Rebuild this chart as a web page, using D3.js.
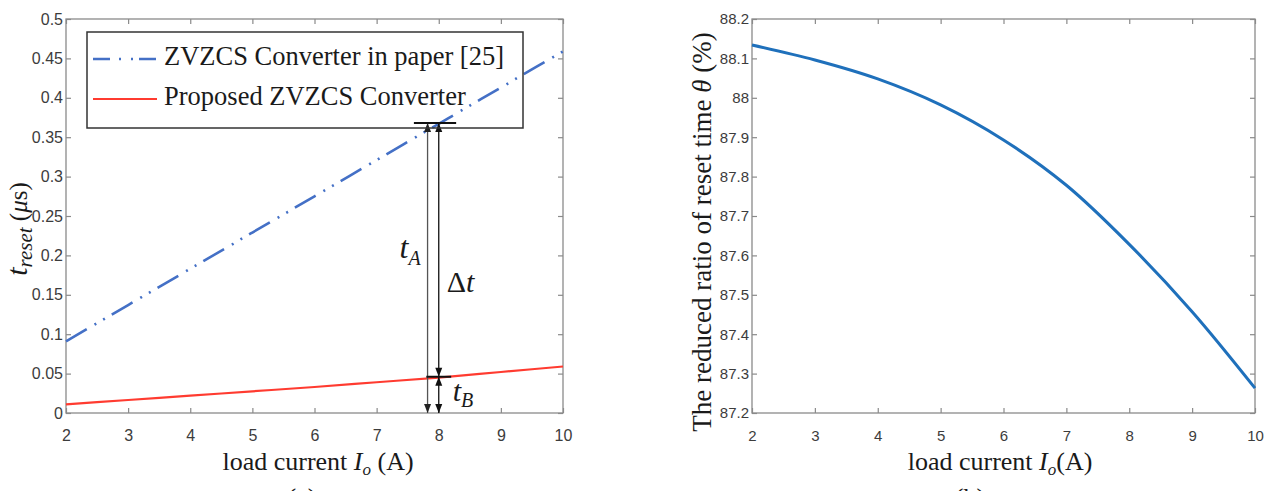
<!DOCTYPE html>
<html>
<head>
<meta charset="utf-8">
<script src="https://cdn.jsdelivr.net/npm/d3@7"></script>
<style>
    body { margin: 0; background: #fff; }
    svg { display: block; }
</style>
</head>
<body>
<script>
// values
const loadCurrent = [2, 3, 4, 5, 6, 7, 8, 9, 10];
const resetPaper = [0.091, 0.137, 0.183, 0.229, 0.275, 0.321, 0.367, 0.413, 0.459];
const resetProposed = [0.011, 0.0165, 0.022, 0.0275, 0.033, 0.039, 0.045, 0.052, 0.059];
const reducedRatio = [88.134, 88.096, 88.048, 87.982, 87.893, 87.778, 87.628, 87.457, 87.263];

const currentTicks = [2, 3, 4, 5, 6, 7, 8, 9, 10];
const resetTicks = [0, 0.05, 0.1, 0.15, 0.2, 0.25, 0.3, 0.35, 0.4, 0.45, 0.5];
const ratioTicks = [87.2, 87.3, 87.4, 87.5, 87.6, 87.7, 87.8, 87.9, 88, 88.1, 88.2];
const legendNames = ["ZVZCS Converter in paper [25]", "Proposed ZVZCS Converter"];

// the t_A / delta t / t_B marker
const markAt = 8;
const markLeftAt = 7.82;
const markTop = 0.368;
const markMid = 0.046;
const capTop = [7.6, 8.28];
const capMid = [7.8, 8.2];

const serif = "'Liberation Serif', 'Times New Roman', serif";
const sans = "'Liberation Sans', Arial, sans-serif";
const axisGray = "#8a8a8a";

const svg = d3.select("body").append("svg")
    .attr("width", 1274)
    .attr("height", 491);

function drawFrame(x, y, yTicks, yFormat, labelSize) {
    const [x0, x1] = x.range();
    const [y1, y0] = y.range();
    const g = svg.append("g");

    const bottom = g.append("g").attr("transform", `translate(0,${y1})`)
        .call(d3.axisBottom(x).tickValues(currentTicks).tickSizeInner(-5).tickSizeOuter(0).tickPadding(17).tickFormat(d3.format("d")));
    const top = g.append("g").attr("transform", `translate(0,${y0})`)
        .call(d3.axisTop(x).tickValues(currentTicks).tickSizeInner(-5).tickSizeOuter(0).tickFormat(""));
    const left = g.append("g").attr("transform", `translate(${x0},0)`)
        .call(d3.axisLeft(y).tickValues(yTicks).tickSizeInner(-5).tickSizeOuter(0).tickPadding(3).tickFormat(yFormat));
    const right = g.append("g").attr("transform", `translate(${x1},0)`)
        .call(d3.axisRight(y).tickValues(yTicks).tickSizeInner(-5).tickSizeOuter(0).tickFormat(""));

    [bottom, top, left, right].forEach(a => {
        a.select(".domain").remove();
        a.selectAll(".tick line").attr("stroke", axisGray).attr("stroke-width", 1.2);
        a.selectAll(".tick text")
            .attr("fill", "#3c3c3c")
            .style("font-family", sans)
            .style("font-size", labelSize + "px");
    });

    g.append("rect")
        .attr("x", x0).attr("y", y0)
        .attr("width", x1 - x0).attr("height", y1 - y0)
        .attr("fill", "none")
        .attr("stroke", axisGray)
        .attr("stroke-width", 1.3);
    return g;
}

function xTitle(cx, suffix) {
    const t = svg.append("text")
        .attr("x", cx).attr("y", 470)
        .attr("text-anchor", "middle")
        .style("font-family", serif)
        .style("font-size", "26px")
        .attr("fill", "#1a1a1a");
    t.append("tspan").text("load current ");
    t.append("tspan").attr("font-style", "italic").text("I");
    t.append("tspan").attr("font-style", "italic").attr("font-size", "17px").attr("dy", 5).text("o");
    t.append("tspan").attr("dy", -5).text(suffix);
}

function arrowHead(g, px, py, dir, color) {
    // dir -1 points up, 1 points down
    g.append("path")
        .attr("d", `M${px},${py} L${px - 3.5},${py - dir * 9} L${px + 3.5},${py - dir * 9} Z`)
        .attr("fill", color);
}

// ---------- (a) ----------
const xa = d3.scaleLinear().domain([2, 10]).range([66, 563]);
const ya = d3.scaleLinear().domain([0, 0.5]).range([413, 19]);
drawFrame(xa, ya, resetTicks, d => String(+d.toFixed(3)), 16);

const line = d3.line()
    .x((d, i) => xa(loadCurrent[i]))
    .y(d => ya(d))
    .curve(d3.curveMonotoneX);

const plotA = svg.append("g");
plotA.append("path")
    .attr("d", line(resetPaper))
    .attr("fill", "none")
    .attr("stroke", "#4470c6")
    .attr("stroke-width", 2.6)
    .attr("stroke-dasharray", "24,9,2,8,2,8");
plotA.append("path")
    .attr("d", line(resetProposed))
    .attr("fill", "none")
    .attr("stroke", "#ff3b30")
    .attr("stroke-width", 2.2);

// marker lines and arrows
const mark = svg.append("g");
mark.append("line")
    .attr("x1", xa(markLeftAt)).attr("x2", xa(markLeftAt))
    .attr("y1", ya(markTop)).attr("y2", ya(0))
    .attr("stroke", "#555").attr("stroke-width", 1.3);
mark.append("line")
    .attr("x1", xa(markAt)).attr("x2", xa(markAt))
    .attr("y1", ya(markTop)).attr("y2", ya(0))
    .attr("stroke", "#111").attr("stroke-width", 1.3);
mark.append("line")
    .attr("x1", xa(capTop[0])).attr("x2", xa(capTop[1]))
    .attr("y1", ya(markTop)).attr("y2", ya(markTop))
    .attr("stroke", "#111").attr("stroke-width", 2);
mark.append("line")
    .attr("x1", xa(capMid[0])).attr("x2", xa(capMid[1]))
    .attr("y1", ya(markMid)).attr("y2", ya(markMid))
    .attr("stroke", "#111").attr("stroke-width", 2);
arrowHead(mark, xa(markLeftAt), ya(markTop), -1, "#222");
arrowHead(mark, xa(markLeftAt), ya(0), 1, "#222");
arrowHead(mark, xa(markAt), ya(markTop), -1, "#111");
arrowHead(mark, xa(markAt), ya(markMid), 1, "#111");
arrowHead(mark, xa(markAt), ya(markMid), -1, "#111");
arrowHead(mark, xa(markAt), ya(0), 1, "#111");

const tA = mark.append("text")
    .attr("x", xa(markLeftAt) - 28).attr("y", 258)
    .style("font-family", serif).style("font-size", "32px").attr("fill", "#1a1a1a");
tA.append("tspan").attr("font-style", "italic").text("t");
tA.append("tspan").attr("font-style", "italic").attr("font-size", "20px").attr("dy", 7).text("A");

const dT = mark.append("text")
    .attr("x", xa(markAt) + 8).attr("y", 292)
    .style("font-family", serif).style("font-size", "30px").attr("fill", "#1a1a1a");
dT.append("tspan").text("Δ");
dT.append("tspan").attr("font-style", "italic").text("t");

const tB = mark.append("text")
    .attr("x", xa(markAt) + 14).attr("y", 401)
    .style("font-family", serif).style("font-size", "30px").attr("fill", "#1a1a1a");
tB.append("tspan").attr("font-style", "italic").text("t");
tB.append("tspan").attr("font-style", "italic").attr("font-size", "20px").attr("dy", 6).text("B");

// legend
const legend = svg.append("g");
legend.append("rect")
    .attr("x", 87).attr("y", 32).attr("width", 436).attr("height", 96)
    .attr("fill", "none").attr("stroke", "#333").attr("stroke-width", 1.5);
const legendStyles = [
    {stroke: "#4470c6", dash: "17,9,2,10,2,6", w: 2.6},
    {stroke: "#ff3b30", dash: null, w: 2.2}
];
legendNames.forEach((name, i) => {
    const ly = 59 + i * 40;
    legend.append("line")
        .attr("x1", 93).attr("x2", 157).attr("y1", ly).attr("y2", ly)
        .attr("stroke", legendStyles[i].stroke)
        .attr("stroke-width", legendStyles[i].w)
        .attr("stroke-dasharray", legendStyles[i].dash);
    legend.append("text")
        .attr("x", 164).attr("y", ly + 6)
        .style("font-family", serif).style("font-size", "26.5px")
        .attr("fill", "#1a1a1a")
        .text(name);
});

// y title (a)
const yTitleA = svg.append("text")
    .attr("transform", "translate(27,229) rotate(-90)")
    .attr("text-anchor", "middle")
    .style("font-family", serif).style("font-size", "25px").attr("fill", "#1a1a1a");
yTitleA.append("tspan").attr("font-style", "italic").attr("font-size", "30px").text("t");
yTitleA.append("tspan").attr("font-style", "italic").attr("font-size", "21px").attr("dy", 5).text("reset");
yTitleA.append("tspan").attr("dy", -5).text(" (");
yTitleA.append("tspan").attr("font-style", "italic").text("μ");
yTitleA.append("tspan").text("s)");

xTitle(318, " (A)");
svg.append("text")
    .attr("x", 302).attr("y", 506)
    .attr("text-anchor", "middle")
    .style("font-family", serif).style("font-size", "26px").attr("fill", "#1a1a1a")
    .text("(a)");

// ---------- (b) ----------
const xb = d3.scaleLinear().domain([2, 10]).range([752, 1255]);
const yb = d3.scaleLinear().domain([87.2, 88.2]).range([413, 19]);
drawFrame(xb, yb, ratioTicks, d => String(+d.toFixed(2)), 15);

const lineB = d3.line()
    .x((d, i) => xb(loadCurrent[i]))
    .y(d => yb(d))
    .curve(d3.curveCatmullRom);
svg.append("path")
    .attr("d", lineB(reducedRatio))
    .attr("fill", "none")
    .attr("stroke", "#1f70bb")
    .attr("stroke-width", 3);

const yTitleB = svg.append("text")
    .attr("transform", "translate(711,232) rotate(-90)")
    .attr("text-anchor", "middle")
    .style("font-family", serif).style("font-size", "27px").attr("fill", "#1a1a1a");
yTitleB.append("tspan").text("The reduced ratio of reset time ");
yTitleB.append("tspan").attr("font-style", "italic").text("θ");
yTitleB.append("tspan").text(" (%)");

xTitle(1000, "(A)");
svg.append("text")
    .attr("x", 970).attr("y", 506)
    .attr("text-anchor", "middle")
    .style("font-family", serif).style("font-size", "26px").attr("fill", "#1a1a1a")
    .text("(b)");
</script>
</body>
</html>
